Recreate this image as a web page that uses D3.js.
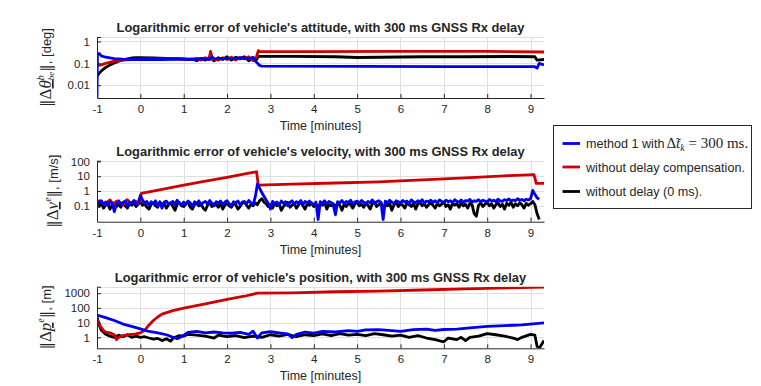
<!DOCTYPE html>
<meta charset="utf-8">
<script src="https://cdn.jsdelivr.net/npm/d3@7"></script>
<style>
  body { margin: 0; background: #fff; }
  svg text { font-family: "Liberation Sans", Arial, Helvetica, sans-serif; fill: #262626; }
</style>
<div id="chart"></div>
<script>
// ---- data ----
var titles = [
  "Logarithmic error of vehicle's attitude, with 300 ms GNSS Rx delay",
  "Logarithmic error of vehicle's velocity, with 300 ms GNSS Rx delay",
  "Logarithmic error of vehicle's position, with 300 ms GNSS Rx delay"
];
var xLabel = "Time [minutes]";
var xTicks = [-1, 0, 1, 2, 3, 4, 5, 6, 7, 8, 9];
var xTickLabels = ["-1", "0", "1", "2", "3", "4", "5", "6", "7", "8", "9"];

var attTicks = [0.01, 0.1, 1], attTickLabels = ["0.01", "0.1", "1"];
var velTicks = [0.1, 1, 10, 100], velTickLabels = ["0.1", "1", "10", "100"];
var posTicks = [1, 10, 100, 1000], posTickLabels = ["1", "10", "100", "1000"];

var legendNames = ["method 1 with", "without delay compensation.", "without delay (0 ms)."];
var colors = ["#0000ee", "#d00000", "#000000"]; // blue, red, black

// attitude [min, deg]
var attBlack = [[-1.0,0.025],[-0.98,0.03],[-0.9,0.045],[-0.8,0.065],[-0.7,0.085],[-0.6,0.105],[-0.5,0.125],
  [-0.4,0.145],[-0.3,0.16],[-0.2,0.175],[-0.1,0.18],[0,0.18],[0.3,0.175],[0.6,0.17],[0.9,0.165],[1.1,0.15],
  [1.2,0.16],[1.3,0.13],[1.4,0.17],[1.5,0.14],[1.6,0.19],[1.7,0.13],[1.8,0.18],[1.9,0.15],[2.0,0.2],[2.1,0.14],
  [2.2,0.19],[2.3,0.16],[2.4,0.2],[2.5,0.13],[2.6,0.18],[2.68,0.15],[2.72,0.21],[3.5,0.21],[4.5,0.2],[5.0,0.185],
  [5.5,0.19],[6.5,0.2],[7.5,0.2],[8.5,0.205],[9.1,0.2],[9.15,0.14],[9.31,0.15]];
var attRed = [[-1.0,0.12],[-0.97,0.08],[-0.9,0.085],[-0.8,0.1],[-0.6,0.125],[-0.4,0.14],[-0.2,0.15],[0,0.155],
  [0.5,0.16],[1.0,0.16],[1.2,0.15],[1.3,0.17],[1.4,0.14],[1.5,0.18],[1.58,0.15],[1.62,0.35],[1.66,0.16],[1.8,0.14],
  [1.9,0.18],[2.0,0.15],[2.1,0.19],[2.2,0.14],[2.3,0.18],[2.4,0.16],[2.5,0.2],[2.6,0.13],[2.68,0.2],[2.72,0.38],
  [2.76,0.34],[4,0.34],[6,0.35],[8,0.35],[9.31,0.33]];
var attBlue = [[-1.0,0.0027],[-0.99,0.25],[-0.95,0.28],[-0.9,0.22],[-0.8,0.19],[-0.6,0.165],[-0.4,0.155],
  [-0.2,0.15],[0,0.15],[0.5,0.15],[1.0,0.155],[1.2,0.15],[1.4,0.165],[1.6,0.15],[1.65,0.2],[1.7,0.16],[1.9,0.17],
  [2.1,0.16],[2.3,0.18],[2.5,0.16],[2.6,0.19],[2.65,0.13],[2.75,0.08],[2.8,0.075],[5,0.073],[7,0.07],[9.1,0.07],
  [9.15,0.06],[9.2,0.1],[9.31,0.085]];

// velocity, sampled every 0.05 min (one row per minute)
var tGrid = [
  -1.00,-0.95,-0.90,-0.85,-0.80,-0.75,-0.70,-0.65,-0.60,-0.55,-0.50,-0.45,-0.40,-0.35,-0.30,-0.25,-0.20,-0.15,-0.10,-0.05,
  0.00,0.05,0.10,0.15,0.20,0.25,0.30,0.35,0.40,0.45,0.50,0.55,0.60,0.65,0.70,0.75,0.80,0.85,0.90,0.95,
  1.00,1.05,1.10,1.15,1.20,1.25,1.30,1.35,1.40,1.45,1.50,1.55,1.60,1.65,1.70,1.75,1.80,1.85,1.90,1.95,
  2.00,2.05,2.10,2.15,2.20,2.25,2.30,2.35,2.40,2.45,2.50,2.55,2.60,2.65,2.70,2.75,2.80,2.85,2.90,2.95,
  3.00,3.05,3.10,3.15,3.20,3.25,3.30,3.35,3.40,3.45,3.50,3.55,3.60,3.65,3.70,3.75,3.80,3.85,3.90,3.95,
  4.00,4.05,4.10,4.15,4.20,4.25,4.30,4.35,4.40,4.45,4.50,4.55,4.60,4.65,4.70,4.75,4.80,4.85,4.90,4.95,
  5.00,5.05,5.10,5.15,5.20,5.25,5.30,5.35,5.40,5.45,5.50,5.55,5.60,5.65,5.70,5.75,5.80,5.85,5.90,5.95,
  6.00,6.05,6.10,6.15,6.20,6.25,6.30,6.35,6.40,6.45,6.50,6.55,6.60,6.65,6.70,6.75,6.80,6.85,6.90,6.95,
  7.00,7.05,7.10,7.15,7.20,7.25,7.30,7.35,7.40,7.45,7.50,7.55,7.60,7.65,7.70,7.75,7.80,7.85,7.90,7.95,
  8.00,8.05,8.10,8.15,8.20,8.25,8.30,8.35,8.40,8.45,8.50,8.55,8.60,8.65,8.70,8.75,8.80,8.85,8.90,8.95,
  9.00,9.05,9.10,9.15,9.20];
var velBlack = [
  0.12,0.09,0.15,0.07,0.11,0.14,0.06,0.12,0.16,0.09,0.13,0.08,0.17,0.10,0.07,0.14,0.11,0.16,0.09,0.13,
  0.18,0.11,0.14,0.08,0.06,0.13,0.16,0.10,0.08,0.19,0.12,0.15,0.07,0.12,0.16,0.09,0.05,0.13,0.17,0.10,
  0.09,0.14,0.19,0.08,0.06,0.12,0.15,0.10,0.13,0.07,0.05,0.11,0.17,0.09,0.14,0.12,0.08,0.15,0.06,0.11,
  0.16,0.10,0.08,0.14,0.12,0.06,0.09,0.15,0.17,0.11,0.07,0.13,0.10,0.16,0.12,0.22,0.30,0.18,0.14,0.09,
  0.12,0.07,0.16,0.10,0.14,0.05,0.09,0.13,0.17,0.08,0.11,0.15,0.07,0.12,0.18,0.10,0.06,0.14,0.11,0.16,
  0.09,0.13,0.07,0.15,0.11,0.17,0.06,0.12,0.10,0.14,0.08,0.16,0.11,0.05,0.13,0.09,0.15,0.12,0.07,0.14,
  0.17,0.10,0.13,0.08,0.15,0.11,0.06,0.14,0.18,0.09,0.12,0.16,0.07,0.13,0.10,0.15,0.05,0.12,0.17,0.09,
  0.14,0.11,0.07,0.16,0.12,0.09,0.15,0.06,0.13,0.17,0.10,0.14,0.08,0.12,0.16,0.11,0.07,0.15,0.10,0.13,
  0.18,0.09,0.12,0.06,0.15,0.11,0.14,0.08,0.16,0.10,0.13,0.07,0.15,0.12,0.03,0.02,0.11,0.16,0.09,0.13,
  0.17,0.10,0.14,0.07,0.12,0.16,0.09,0.13,0.06,0.15,0.11,0.17,0.08,0.14,0.10,0.16,0.12,0.07,0.15,0.11,
  0.14,0.20,0.12,0.03,0.012];
var velBlue = [
  0.20,0.16,0.22,0.13,0.18,0.11,0.19,0.15,0.04,0.14,0.20,0.12,0.17,0.21,0.10,0.18,0.14,0.22,0.12,0.16,
  0.50,0.25,0.15,0.20,0.11,0.19,0.14,0.22,0.10,0.17,0.07,0.18,0.21,0.13,0.16,0.20,0.12,0.24,0.15,0.11,
  0.18,0.13,0.21,0.16,0.09,0.19,0.14,0.22,0.11,0.17,0.20,0.13,0.23,0.15,0.10,0.19,0.16,0.21,0.12,0.18,
  0.22,0.14,0.10,0.19,0.16,0.21,0.12,0.18,0.20,0.14,0.23,0.16,0.12,0.40,3.00,1.60,0.80,0.45,0.25,0.15,
  0.06,0.20,0.13,0.18,0.11,0.21,0.15,0.19,0.10,0.17,0.22,0.13,0.19,0.15,0.23,0.12,0.20,0.16,0.21,0.14,
  0.12,0.18,0.012,0.19,0.15,0.22,0.13,0.20,0.17,0.11,0.025,0.19,0.16,0.23,0.14,0.20,0.17,0.24,0.13,0.19,
  0.21,0.15,0.23,0.18,0.13,0.20,0.16,0.25,0.14,0.19,0.22,0.17,0.012,0.21,0.16,0.24,0.18,0.14,0.22,0.19,
  0.15,0.23,0.18,0.21,0.14,0.25,0.19,0.16,0.22,0.18,0.26,0.15,0.21,0.19,0.24,0.17,0.22,0.16,0.25,0.20,
  0.17,0.24,0.19,0.22,0.16,0.26,0.20,0.18,0.25,0.17,0.23,0.21,0.27,0.18,0.22,0.20,0.26,0.19,0.24,0.21,
  0.18,0.27,0.21,0.24,0.19,0.28,0.22,0.20,0.26,0.23,0.29,0.21,0.25,0.22,0.30,0.24,0.27,0.22,0.28,0.25,
  0.30,1.10,0.60,0.35,0.28];
var velRed = [[-1.0,0.15],[-0.95,0.22],[-0.9,0.2],[-0.85,0.13],[-0.8,0.12],[-0.75,0.2],[-0.7,0.25],[-0.65,0.16],
  [-0.6,0.14],[-0.55,0.21],[-0.5,0.22],[-0.45,0.13],[-0.4,0.11],[-0.35,0.2],[-0.3,0.26],[-0.25,0.17],[-0.2,0.15],
  [-0.15,0.23],[-0.1,0.2],[-0.05,0.14],[0.0,0.25],[0.02,0.7],[0.5,1.3],[1.0,2.5],[1.5,4.6],[2.0,8.5],[2.5,16],
  [2.68,20],[2.72,2.5],[3.5,2.9],[4.5,3.5],[5.5,4.2],[6.5,5.6],[7.5,7.8],[8.5,10.9],[9.08,13],[9.13,3.3],[9.31,3.3]];

// position [min, m]
var posBlack = [[-1.0,25],[-0.95,7],[-0.9,3],[-0.8,1.6],[-0.7,1.2],[-0.6,1.0],[-0.5,1.4],[-0.4,1.1],[-0.3,1.5],
  [-0.2,1.0],[-0.1,1.2],[0.0,1.0],[0.1,1.1],[0.2,0.9],[0.3,0.75],[0.4,0.85],[0.5,0.6],[0.6,0.8],[0.7,0.55],
  [0.75,0.85],[0.8,1.0],[0.9,1.3],[1.0,1.2],[1.1,1.6],[1.3,1.4],[1.5,1.2],[1.7,0.9],[1.8,1.4],[2.0,1.1],[2.2,1.3],
  [2.4,0.95],[2.6,1.2],[2.8,1.0],[3.0,1.5],[3.2,1.2],[3.4,1.6],[3.6,1.1],[3.8,1.5],[4.0,1.3],[4.2,1.7],[4.4,1.3],
  [4.6,1.8],[4.8,1.4],[5.0,1.6],[5.2,1.3],[5.4,1.8],[5.6,1.5],[5.8,1.2],[6.0,1.4],[6.2,1.0],[6.4,1.3],[6.6,0.9],
  [6.8,0.7],[7.0,0.5],[7.1,0.9],[7.3,0.7],[7.4,1.0],[7.5,0.6],[7.6,1.0],[7.8,1.2],[8.0,1.8],[8.2,1.5],[8.4,1.2],
  [8.6,0.9],[8.7,0.7],[8.8,1.0],[9.0,1.6],[9.1,1.4],[9.15,0.25],[9.2,0.18],[9.31,0.6]];
var posRed = [[-1.0,17],[-0.95,8],[-0.9,4.5],[-0.85,3],[-0.8,2.3],[-0.7,2.0],[-0.6,1.5],[-0.55,0.7],[-0.5,1.0],
  [-0.4,1.3],[-0.3,1.5],[-0.2,1.6],[-0.1,1.7],[0.0,2.0],[0.1,3.0],[0.2,7],[0.3,14],[0.4,24],[0.5,38],[0.75,65],
  [1.0,95],[1.5,190],[2.0,380],[2.4,620],[2.7,1000],[3.5,1050],[4.5,1250],[5.5,1400],[6.5,1650],[7.5,1950],
  [8.5,2300],[9.31,2600]];
var posBlue = [[-1.0,33],[-0.8,22],[-0.6,14],[-0.4,8],[-0.2,5.5],[0,3.8],[0.2,2.5],[0.4,2.0],[0.6,1.5],[0.8,0.9],
  [0.85,0.8],[0.9,0.95],[1.0,1.4],[1.1,2.2],[1.3,2.5],[1.5,2.0],[1.7,2.3],[1.9,2.0],[2.1,1.9],[2.3,2.2],[2.5,1.6],
  [2.6,2.6],[2.7,0.9],[2.8,2.0],[3.0,2.4],[3.2,2.0],[3.4,1.7],[3.5,0.95],[3.6,1.6],[3.8,2.3],[4.0,1.9],[4.2,2.5],
  [4.5,2.3],[4.8,2.9],[5.0,2.5],[5.2,3.2],[5.5,3.3],[5.8,2.9],[6.0,2.5],[6.3,3.3],[6.6,3.6],[6.8,3.0],[7.0,3.4],
  [7.3,3.6],[7.6,4.4],[8.0,5.5],[8.4,6.2],[8.8,7.0],[9.31,9.5]];

// ---- layout ----
var W = 761, H = 386;
var svg = d3.select("#chart").append("svg").attr("width", W).attr("height", H);

var x = d3.scaleLinear().domain([-1, 9.31]).range([97, 544]);
var serif = "'Liberation Serif', 'DejaVu Serif', serif";

function zip(t, v) { return t.map(function (d, i) { return [d, v[i]]; }); }

var panels = [
  { top: 37, bottom: 98, domain: [0.0026, 1.6], ticks: attTicks, tickLabels: attTickLabels, labelX: 45,
    unit: ", [deg]", sym: "θ", sup: "b", sub: "be",
    series: [attBlack, attRed, attBlue] },
  { top: 160.7, bottom: 221.7, domain: [0.0085, 112], ticks: velTicks, tickLabels: velTickLabels, labelX: 52,
    unit: ", [m/s]", sym: "v", sup: "e", sub: null,
    series: [zip(tGrid, velBlack), velRed, zip(tGrid, velBlue)] },
  { top: 286.7, bottom: 348.3, domain: [0.18, 2760], ticks: posTicks, tickLabels: posTickLabels, labelX: 45,
    unit: ", [m]", sym: "p", sup: "e", sub: null,
    series: [posBlack, posRed, posBlue] }
];
var drawColors = [colors[2], colors[1], colors[0]]; // black first, blue on top

panels.forEach(function (p, i) {
  var y = d3.scaleLog().domain(p.domain).range([p.bottom, p.top]);
  var g = svg.append("g");

  // grid
  g.selectAll(".vgrid").data(xTicks.slice(1)).enter().append("line")
    .attr("x1", function (d) { return Math.round(x(d)) + 0.5; })
    .attr("x2", function (d) { return Math.round(x(d)) + 0.5; })
    .attr("y1", p.top).attr("y2", p.bottom)
    .attr("stroke", "#dfdfdf").attr("stroke-width", 1);
  g.selectAll(".hgrid").data(p.ticks.concat([p.domain[1]])).enter().append("line")
    .attr("x1", x.range()[0]).attr("x2", x.range()[1])
    .attr("y1", function (d) { return Math.round(y(d)) + 0.5; })
    .attr("y2", function (d) { return Math.round(y(d)) + 0.5; })
    .attr("stroke", "#dfdfdf").attr("stroke-width", 1);

  // lines
  g.append("clipPath").attr("id", "clip" + i).append("rect")
    .attr("x", x.range()[0]).attr("y", p.top)
    .attr("width", x.range()[1] - x.range()[0]).attr("height", p.bottom - p.top);
  var line = d3.line().x(function (d) { return x(d[0]); }).y(function (d) { return y(d[1]); });
  g.append("g").attr("clip-path", "url(#clip" + i + ")")
    .selectAll("path").data(p.series).enter().append("path")
    .attr("d", line)
    .attr("fill", "none")
    .attr("stroke", function (d, k) { return drawColors[k]; })
    .attr("stroke-width", 2.8)
    .attr("stroke-linejoin", "round");

  // axes
  var xa = g.append("g").attr("transform", "translate(0," + p.bottom + ")")
    .call(d3.axisBottom(x).tickValues(xTicks)
      .tickFormat(function (d, k) { return xTickLabels[k]; })
      .tickSize(-4).tickSizeOuter(0).tickPadding(7));
  var ya = g.append("g").attr("transform", "translate(" + x.range()[0] + ",0)")
    .call(d3.axisLeft(y).tickValues(p.ticks.concat([p.domain[1]]))
      .tickFormat(function (d, k) { return p.tickLabels[k] || ""; })
      .tickSize(-4).tickSizeOuter(0).tickPadding(7));
  [xa, ya].forEach(function (a) {
    a.attr("font-family", null).attr("font-size", 11.5);
    a.select(".domain").attr("stroke", "#262626");
    a.selectAll(".tick line").attr("stroke", "#262626");
    a.selectAll(".tick text").attr("fill", "#262626");
  });

  // title and x label
  svg.append("text")
    .attr("x", (x.range()[0] + x.range()[1]) / 2).attr("y", p.top - 5)
    .attr("text-anchor", "middle").attr("font-weight", "bold").attr("font-size", 12.9)
    .attr("fill", "#000").text(titles[i]);
  svg.append("text")
    .attr("x", (x.range()[0] + x.range()[1]) / 2).attr("y", p.bottom + 32)
    .attr("text-anchor", "middle").attr("font-size", 12.5).text(xLabel);

  // y label: ||Δ x^sup_sub||, [unit]
  var cy = (p.top + p.bottom) / 2;
  var lab = svg.append("text")
    .attr("transform", "translate(" + (p.labelX + 6) + "," + cy + ") rotate(-90)")
    .attr("text-anchor", "middle").attr("fill", "#262626");
  lab.append("tspan").attr("font-family", "'DejaVu Serif', serif").attr("font-size", 15).text("\u2016");
  lab.append("tspan").attr("font-family", serif).attr("font-size", 17).text("\u0394");
  lab.append("tspan").attr("font-family", serif).attr("font-size", 17).attr("font-style", "italic")
    .attr("text-decoration", "underline").text(p.sym);
  lab.append("tspan").attr("font-family", serif).attr("font-size", 10).attr("font-style", "italic")
    .attr("dy", -7).text(p.sup);
  if (p.sub) {
    lab.append("tspan").attr("font-family", serif).attr("font-size", 9).attr("font-style", "italic")
      .attr("dx", -5).attr("dy", 10).text(p.sub);
    lab.append("tspan").attr("font-family", "'DejaVu Serif', serif").attr("font-size", 15)
      .attr("dy", -3).text("\u2016");
  } else {
    lab.append("tspan").attr("font-family", "'DejaVu Serif', serif").attr("font-size", 15)
      .attr("dy", 7).text("\u2016");
  }
  lab.append("tspan").attr("font-size", 13).text(p.unit);
});

// legend
var lg = svg.append("g");
lg.append("rect").attr("x", 553.5).attr("y", 125.5).attr("width", 198).attr("height", 83)
  .attr("fill", "#fff").attr("stroke", "#262626").attr("stroke-width", 1);
var legY = [143.5, 167, 191.5];
legendNames.forEach(function (name, k) {
  lg.append("line").attr("x1", 562.5).attr("x2", 580).attr("y1", legY[k]).attr("y2", legY[k])
    .attr("stroke", colors[k]).attr("stroke-width", 2.8);
  var t = lg.append("text").attr("x", 586).attr("y", legY[k] + 4.5).attr("font-size", 12.6).attr("fill", "#000");
  t.append("tspan").text(name);
  if (k === 0) {
    t.append("tspan").attr("font-family", serif).attr("font-size", 15).attr("dx", 2).text("\u0394\u0303");
    t.append("tspan").attr("font-family", serif).attr("font-size", 15).attr("font-style", "italic").text("t");
    t.append("tspan").attr("font-family", serif).attr("font-size", 10).attr("font-style", "italic")
      .attr("dy", 3).text("k");
    t.append("tspan").attr("font-family", serif).attr("font-size", 15).attr("dy", -3).text(" = 300 ms.");
  }
});
</script>
